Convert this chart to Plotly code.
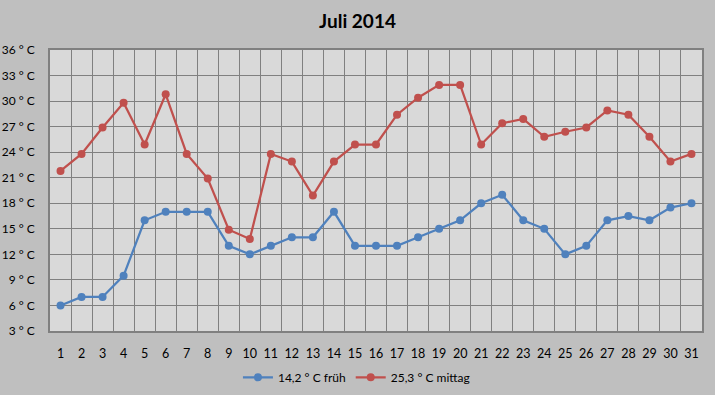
import plotly.graph_objects as go

days = [str(d) for d in range(1, 32)]
frueh = [6, 7, 7, 9.5, 16, 17, 17, 17, 13, 12, 13, 14, 14, 17, 13,
         13, 13, 14, 15, 16, 18, 19, 16, 15, 12, 13, 16, 16.5, 16, 17.5, 18]
mittag = [21.8, 23.8, 26.9, 29.8, 24.9, 30.8, 23.8, 20.9, 14.9, 13.8, 23.8, 22.9, 18.9, 22.9, 24.9,
          24.9, 28.4, 30.4, 31.9, 31.9, 24.9, 27.4, 27.9, 25.8, 26.4, 26.9, 28.9, 28.4, 25.8, 22.9, 23.8]
y_ticks = list(range(3, 37, 3))
y_labels = [f"{v} ° C" for v in y_ticks]
series_names = ["14,2 ° C früh", "25,3 ° C mittag"]

FONT = "Lato, 'Open Sans', sans-serif"

fig = go.Figure()
fig.add_trace(go.Scatter(x=days, y=frueh, name=series_names[0], mode="lines+markers",
                         line=dict(color="#4F81BD", width=2.25),
                         marker=dict(color="#4F81BD", size=8)))
fig.add_trace(go.Scatter(x=days, y=mittag, name=series_names[1], mode="lines+markers",
                         line=dict(color="#C0504D", width=2.25),
                         marker=dict(color="#C0504D", size=8)))

fig.update_layout(
    width=715, height=395,
    paper_bgcolor="#BFBFBF", plot_bgcolor="#D9D9D9",
    margin=dict(l=50, r=13, t=50, b=64, autoexpand=False),
    title=dict(text="<b>Juli 2014</b>", x=0.5, xanchor="center", y=0.947, yanchor="middle",
               font=dict(family=FONT, size=19, color="#000000")),
    font=dict(family=FONT, size=12, color="#000000"),
    showlegend=True,
    legend=dict(orientation="h", x=0.47, xanchor="center", y=-0.165, yanchor="middle",
                bgcolor="rgba(0,0,0,0)", font=dict(family=FONT, size=12, color="#000000"),
                itemwidth=30),
)
fig.update_xaxes(type="category", tickson="boundaries", range=[-0.5, 30.5], showgrid=True,
                 gridcolor="#808080", gridwidth=1.3,
                 ticks="", showline=True, linecolor="#808080", linewidth=1.5, mirror=True,
                 tickangle=0, automargin=False,
                 ticklabelstandoff=10, tickfont=dict(size=12.5), zeroline=False)
fig.update_yaxes(range=[3, 36], tickvals=y_ticks, ticktext=y_labels, showgrid=True, automargin=False,
                 gridcolor="#808080", gridwidth=1.3, ticks="", showline=True, linecolor="#808080",
                 linewidth=1.5, mirror=True, ticklabelstandoff=11, tickfont=dict(size=12), zeroline=False)

fig.write_html("out.html", config={"displayModeBar": False},
               post_script="document.body.style.margin='0';document.body.style.overflow='hidden';")
